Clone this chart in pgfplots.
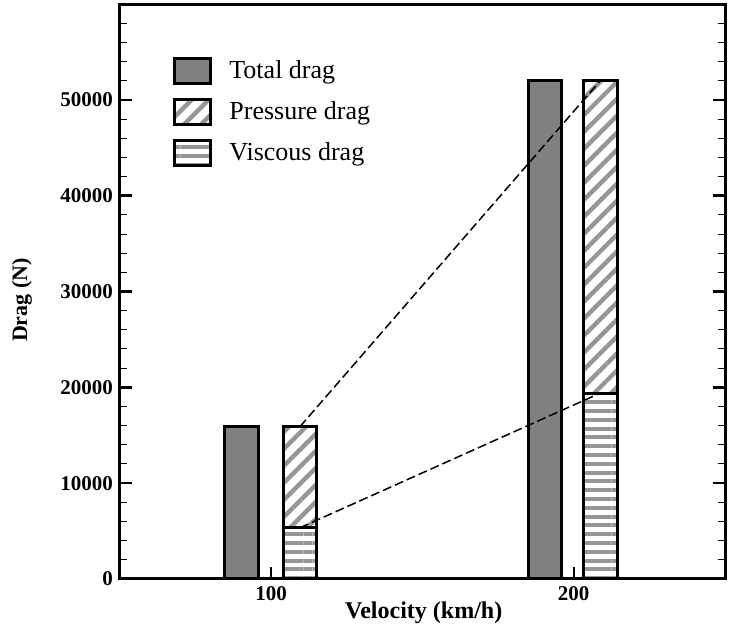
\documentclass[border=0pt]{standalone}
\usepackage{fontspec}
\setmainfont{Liberation Serif}
\usepackage{pgfplots}
\pgfplotsset{compat=1.18}
\usetikzlibrary{patterns.meta}
\definecolor{barfill}{RGB}{128,128,128}
\definecolor{hatch}{RGB}{150,150,150}
\pgfplotsset{
  mybar/.style={ybar, bar width=11, bar shift=0pt, draw=black, line width=1.5pt,
    legend image code/.code={\draw[##1,/tikz/.cd,line width=1.5pt] (0pt,-6.25pt) rectangle (18pt,6.25pt);}},
}
\begin{document}
\begin{tikzpicture}
\begin{axis}[
  scale only axis,
  width=302.5pt, height=287.5pt,
  xmin=50, xmax=250, ymin=0, ymax=60000,
  xtick={100,200},
  ytick={0,10000,20000,30000,40000,50000},
  minor ytick={2000,4000,...,58000},
  xtick pos=bottom, ytick pos=both,
  tick align=inside,
  major tick length=6pt, minor tick length=3.5pt,
  every major tick/.style={black, line width=1.2pt},
  every minor tick/.style={black, line width=0.5pt},
  xtick style={line width=0.8pt},
  axis line style={line width=1.5pt},
  scaled y ticks=false,
  /pgf/number format/assume math mode=true,
  /pgf/number format/1000 sep={},
  ticklabel style={font=\fontsize{10.5}{12}\selectfont\bfseries},
  xlabel={Velocity (km/h)},
  ylabel={Drag (N)},
  xlabel style={font=\fontsize{12}{14}\selectfont\bfseries, at={(axis description cs:0.502,0)}, anchor=center, yshift=-17pt},
  ylabel style={font=\fontsize{11}{13}\selectfont\bfseries, at={(axis description cs:-0.162,0.485)}, anchor=center},
  legend style={draw=none, fill=none, at={(rel axis cs:0.0876,0.91)}, anchor=north west,
    font=\fontsize{13}{15}\selectfont, row sep=6pt, inner sep=0pt,
    /tikz/every odd column/.append style={column sep=6.5pt}},
  legend cell align=left,
]
\addplot[mybar, fill=barfill] coordinates {(90.2,15900) (190.4,52000)};
\addlegendentry{Total drag}
\addplot[mybar, fill=white, postaction={pattern={Lines[angle=45,distance=6pt,line width=2.2pt]}, pattern color=hatch}] coordinates {(109.5,15900) (208.8,52000)};
\addlegendentry{Pressure drag}
\addplot[mybar, fill=white, postaction={pattern={Lines[angle=0,distance=4.4pt,line width=2pt]}, pattern color=hatch}] coordinates {(109.5,5350) (208.8,19400)};
\addlegendentry{Viscous drag}
\addplot[forget plot, black, line width=0.75pt, dash pattern=on 4.5pt off 2pt] coordinates {(109.5,15900) (208.8,52000)};
\addplot[forget plot, black, line width=0.75pt, dash pattern=on 4.5pt off 2pt] coordinates {(109.5,5350) (208.8,19400)};
\end{axis}
\pgfresetboundingbox
\path ([shift={(-60pt,-26pt)}]current axis.south west) rectangle ([shift={(2pt,2pt)}]current axis.north east);
\end{tikzpicture}
\end{document}
